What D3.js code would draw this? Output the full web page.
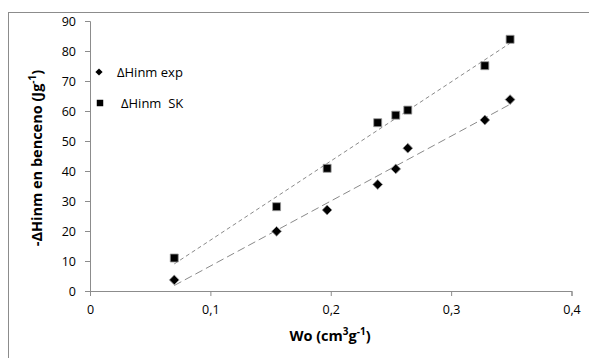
<!DOCTYPE html>
<html><head><meta charset="utf-8">
<script src="https://cdn.jsdelivr.net/npm/d3@7"></script>
<style>body{margin:0;background:#fff}svg{display:block}text{font-family:"Open Sans","Noto Sans",sans-serif}</style>
</head><body>
<script>
const wo = [0.07, 0.155, 0.197, 0.239, 0.254, 0.264, 0.328, 0.349];
const hExp = [3.7, 19.9, 27.0, 35.5, 40.7, 47.6, 57.0, 63.8];
const hSK = [11.0, 28.1, 40.9, 56.1, 58.6, 60.3, 75.1, 83.9];
const seriesNames = ["ΔHinm exp", "ΔHinm  SK"];
const xTicks = [0, 0.1, 0.2, 0.3, 0.4];
const yTicks = [0, 10, 20, 30, 40, 50, 60, 70, 80, 90];

const W = 589, H = 358;
const svg = d3.select("body").append("svg").attr("width", W).attr("height", H);
svg.append("rect").attr("x", 8.5).attr("y", 12.5).attr("width", W).attr("height", H)
  .attr("fill", "#fff").attr("stroke", "#8c8c8c").attr("stroke-width", 1);

const x = d3.scaleLinear().domain([0, 0.4]).range([90, 571.5]);
const y = d3.scaleLinear().domain([0, 90]).range([291, 21]);

const xAxis = svg.append("g").attr("transform", "translate(0,291)")
  .call(d3.axisBottom(x).tickValues(xTicks).tickSize(5).tickPadding(9).tickFormat(d => d === 0 ? "0" : d3.format(".1f")(d).replace(".", ",")));
const yAxis = svg.append("g").attr("transform", "translate(90,0)")
  .call(d3.axisLeft(y).tickValues(yTicks).tickSize(5).tickPadding(9));
[xAxis, yAxis].forEach(a => {
  a.select(".domain").attr("stroke", "#8c8c8c");
  a.selectAll(".tick line").attr("stroke", "#8c8c8c");
  a.selectAll(".tick text").attr("font-size", 12.5).attr("fill", "#000").style("font-family", '"Open Sans",sans-serif');
});

// linear trendlines (least squares fit of each series)
function fit(xs, ys) {
  const mx = d3.mean(xs), my = d3.mean(ys);
  const b = d3.sum(xs, (v, i) => (v - mx) * (ys[i] - my)) / d3.sum(xs, v => (v - mx) ** 2);
  return [b, my - b * mx];
}
const series = [
  {vals: hExp, dash: "8,4"},
  {vals: hSK, dash: "4,3"}
];
const x0 = d3.min(wo), x1 = d3.max(wo);
series.forEach(s => {
  const [b, a] = fit(wo, s.vals);
  svg.append("line").attr("x1", x(x0)).attr("y1", y(a + b * x0))
    .attr("x2", x(x1)).attr("y2", y(a + b * x1))
    .attr("stroke", "#8a8a8a").attr("stroke-width", 1).attr("stroke-dasharray", s.dash);
});
// markers
svg.append("g").selectAll("path").data(wo.map((v, i) => [v, hExp[i]])).join("path")
  .attr("d", d3.symbol().type(d3.symbolSquare).size(48))
  .attr("transform", d => `translate(${x(d[0])},${y(d[1])}) rotate(45)`)
  .attr("fill", "#000").attr("stroke", "#9a9a9a").attr("stroke-width", 0.8);
svg.append("g").selectAll("path").data(wo.map((v, i) => [v, hSK[i]])).join("path")
  .attr("transform", d => `translate(${x(d[0])},${y(d[1])})`)
  .attr("d", d3.symbol().type(d3.symbolSquare).size(64))
  .attr("fill", "#000").attr("stroke", "#9a9a9a").attr("stroke-width", 0.8);

// legend
const leg = svg.append("g");
leg.append("path").attr("transform", "translate(99,72) rotate(45)")
  .attr("d", d3.symbol().type(d3.symbolSquare).size(26)).attr("fill", "#000");
leg.append("text").attr("x", 117).attr("y", 76.5).attr("font-size", 13).attr("xml:space", "preserve").text(seriesNames[0]);
leg.append("path").attr("transform", "translate(100,103)")
  .attr("d", d3.symbol().type(d3.symbolSquare).size(42)).attr("fill", "#000");
leg.append("text").attr("x", 121).attr("y", 107.5).attr("font-size", 13).attr("xml:space", "preserve").text(seriesNames[1]);

// axis titles
const xt = svg.append("text").attr("x", 330).attr("y", 341).attr("text-anchor", "middle")
  .attr("font-size", 14.5).attr("font-weight", "bold");
xt.append("tspan").text("Wo (cm");
xt.append("tspan").attr("dy", -6).attr("font-size", 10).text("3");
xt.append("tspan").attr("dy", 6).text("g");
xt.append("tspan").attr("dy", -6).attr("font-size", 10).text("-1");
xt.append("tspan").attr("dy", 6).text(")");

const yt = svg.append("text").attr("transform", "translate(42,158) rotate(-90)").attr("text-anchor", "middle")
  .attr("font-size", 14.5).attr("font-weight", "bold");
yt.append("tspan").text("-ΔHinm en benceno (Jg");
yt.append("tspan").attr("dy", -6).attr("font-size", 10).text("-1");
yt.append("tspan").attr("dy", 6).text(")");
</script>
</body></html>
